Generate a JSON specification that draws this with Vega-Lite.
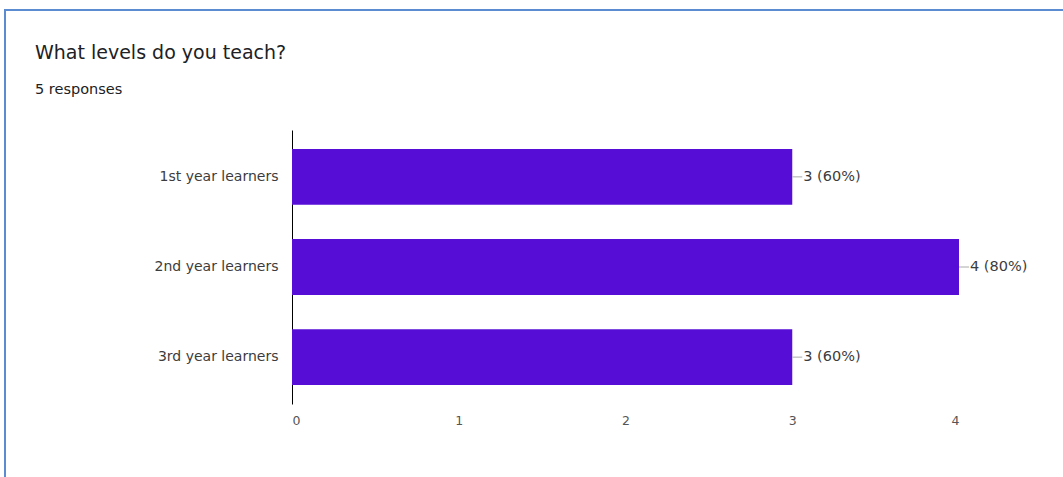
{
  "$schema": "https://vega.github.io/schema/vega-lite/v6.json",
  "width": 1063,
  "height": 472,
  "autosize": {"type": "none"},
  "padding": {"left": 5, "top": 10, "right": -5, "bottom": -5},
  "background": "white",
  "title": {
    "text": "What levels do you teach?",
    "subtitle": "5 responses",
    "anchor": "start",
    "frame": "group",
    "dx": 30,
    "offset": -86,
    "font": "DejaVu Sans",
    "fontSize": 19,
    "fontWeight": "normal",
    "color": "#202124",
    "subtitleFont": "DejaVu Sans",
    "subtitleFontSize": 14.5,
    "subtitleColor": "#202124",
    "subtitlePadding": 20
  },
  "config": {"view": {"stroke": "#5b8bd1", "strokeWidth": 2}},
  "data": {
    "values": [
      {"level": "1st year learners", "count": 3, "label": "3 (60%)"},
      {"level": "2nd year learners", "count": 4, "label": "4 (80%)"},
      {"level": "3rd year learners", "count": 3, "label": "3 (60%)"}
    ]
  },
  "encoding": {
    "y": {
      "field": "level",
      "type": "nominal",
      "sort": null,
      "scale": {"range": [120, 394], "paddingInner": 0.38, "paddingOuter": 0.21},
      "axis": {
        "title": null,
        "offset": -287,
        "domainColor": "#000000",
        "domainWidth": 1,
        "ticks": false,
        "grid": false,
        "labelPadding": 14,
        "labelFont": "DejaVu Sans",
        "labelFontSize": 14,
        "labelColor": "#3c3c3c"
      }
    },
    "x": {
      "field": "count",
      "type": "quantitative",
      "scale": {"domain": [0, 4], "range": [287, 954], "zero": false, "nice": false},
      "axis": {
        "title": null,
        "offset": -82,
        "domain": false,
        "ticks": false,
        "grid": false,
        "values": [0, 1, 2, 3, 4],
        "format": "d",
        "labelPadding": 14,
        "labelFont": "DejaVu Sans",
        "labelFontSize": 12.5,
        "labelColor": "#555555"
      }
    }
  },
  "layer": [
    {"mark": {"type": "bar", "color": "#560ed6"}},
    {
      "mark": {"type": "rule", "color": "#aaaaaa", "strokeWidth": 1, "x2Offset": 10},
      "encoding": {"x2": {"field": "count"}}
    },
    {
      "mark": {"type": "text", "align": "left", "baseline": "middle", "dx": 11, "font": "DejaVu Sans", "fontSize": 14.5, "color": "#3c3c3c"},
      "encoding": {"text": {"field": "label"}}
    }
  ]
}
